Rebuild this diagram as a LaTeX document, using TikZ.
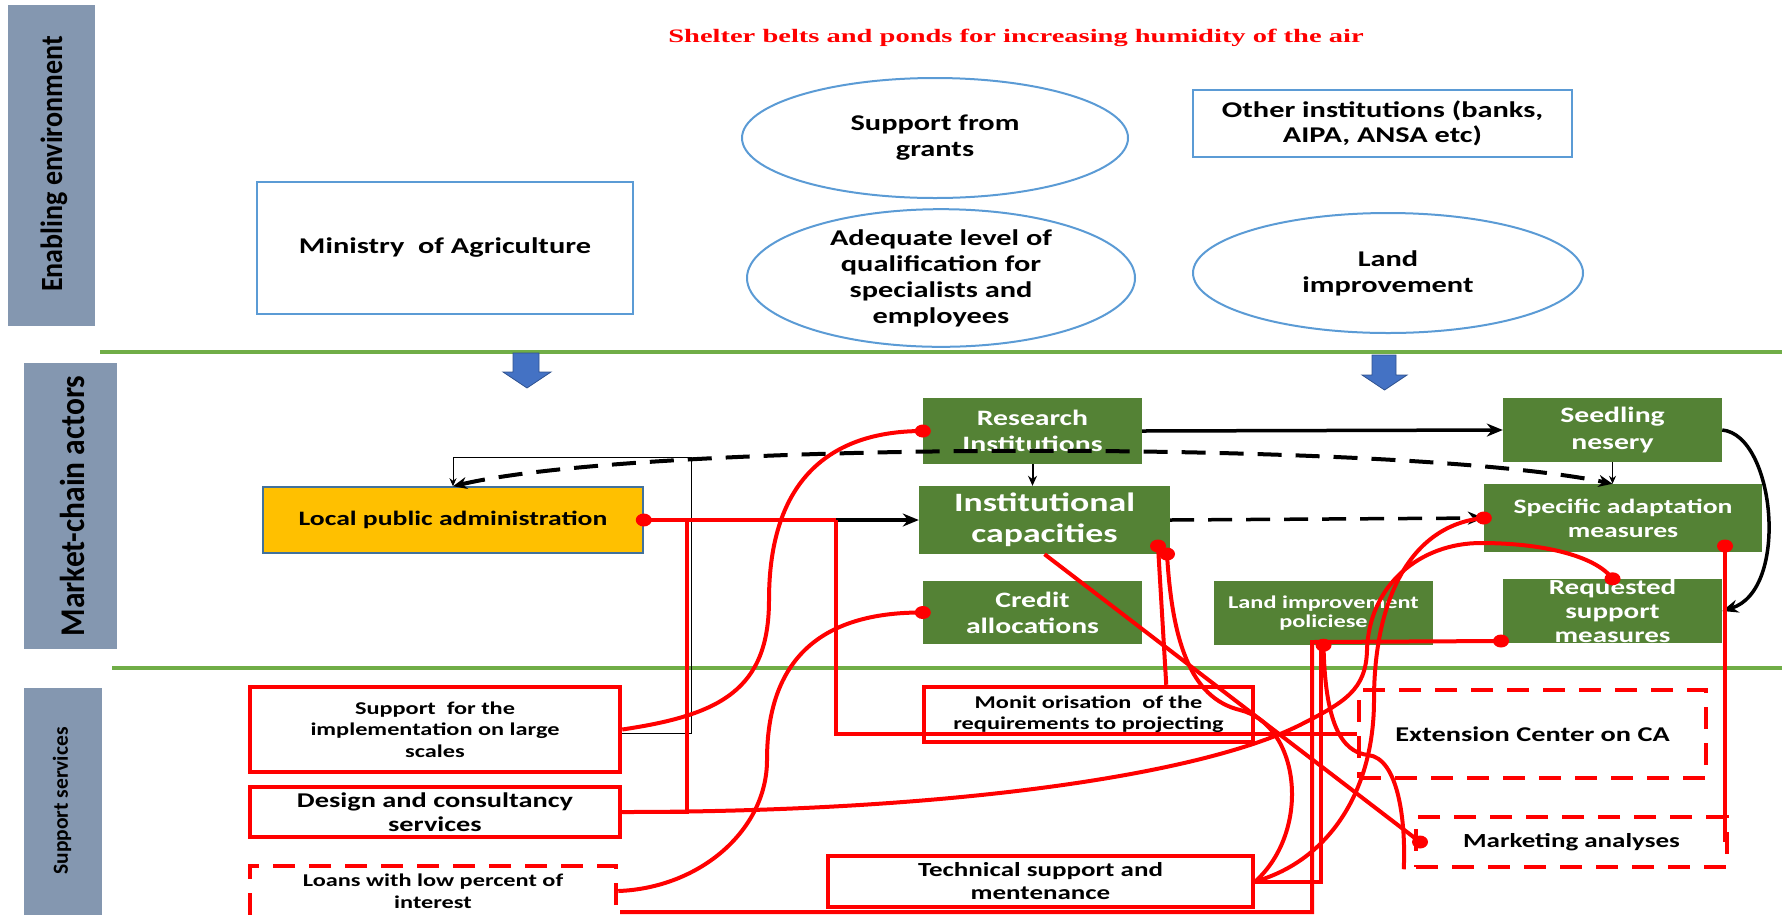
\documentclass[tikz,border=0pt]{standalone}
\usepackage{fontspec}
\usepackage{graphicx}
\setmainfont{Carlito}[FakeStretch=1.35]
\newfontfamily\bandfont{Carlito}
\newfontfamily\headfont{Liberation Serif}[FakeStretch=1.5]
\usetikzlibrary{shapes.geometric,arrows.meta}

\definecolor{bargray}{HTML}{8497B0}
\definecolor{leafgreen}{HTML}{548235}
\definecolor{rulegreen}{HTML}{70AD47}
\definecolor{outlineblue}{HTML}{5B9BD5}
\definecolor{blockblue}{HTML}{4472C4}
\definecolor{blockedge}{HTML}{2F528F}
\definecolor{amber}{HTML}{FFC000}
\definecolor{amberedge}{HTML}{41719C}
\definecolor{linkred}{HTML}{FF0000}

\newcommand\setfs[2]{\fontsize{#1}{#2}\selectfont\bfseries}

\tikzset{
  band/.style={fill=bargray, draw=none},
  bandlabel/.style={rotate=90, text=black, inner sep=0pt},
  rulerline/.style={draw=rulegreen, line width=4pt},
  blockarrow/.style={fill=blockblue, draw=blockedge, line width=0.8pt},
  envbox/.style={rectangle, draw=outlineblue, line width=2pt, inner sep=0pt, align=center},
  envoval/.style={ellipse, draw=outlineblue, line width=2pt, inner sep=0pt, align=center},
  actor/.style={rectangle, fill=leafgreen, text=white, inner sep=0pt, align=center},
  service/.style={rectangle, draw=linkred, line width=4.5pt, fill=white, inner sep=0pt, align=center},
  serviceopen/.style={service, dash pattern=on 22pt off 14pt},
  redlink/.style={draw=linkred, line width=4pt},
  reddot/.style={fill=linkred},
  flow/.style={draw=black, line width=3.5pt, -{Stealth[length=16pt,width=13pt]}},
  thinflow/.style={draw=black, line width=2pt, -{Stealth[length=10pt,width=9pt]}},
  hairflow/.style={draw=black, line width=1pt, -{Stealth[length=8pt,width=7pt]}},
  dashflow/.style={draw=black, line width=4pt, dash pattern=on 24pt off 14pt},
}

\begin{document}
\begin{tikzpicture}[x=1pt, y=-1pt]
\useasboundingbox (0,0) rectangle (1782,914);

% ---- side bands
\path[band] (8,5) rectangle (95,326);
\path[band] (24,363) rectangle (117,649);
\path[band] (24,688) rectangle (102,930);
\node[bandlabel, font=\bandfont\fontsize{28}{30}\selectfont\bfseries] (bandA) at (54,164) {\scalebox{1}[1.1]{Enabling environment}};
\node[bandlabel, font=\bandfont\fontsize{31.5}{34}\selectfont\bfseries] (bandB) at (72,506) {\scalebox{1}[1.1]{Market-chain actors}};
\node[bandlabel, font=\bandfont\fontsize{21.5}{24}\selectfont\bfseries] (bandC) at (62,801) {Support services};

% ---- section rules
\draw[rulerline] (100,352) -- (1782,352);
\draw[rulerline] (112,668) -- (1782,668);

% ---- block arrows
\path[blockarrow] (513,353) -- (539,353) -- (539,372) -- (551,372) -- (527,388) -- (503,372) -- (513,372) -- cycle;
\path[blockarrow] (1372,355) -- (1396,355) -- (1396,375) -- (1407,375) -- (1384.5,390) -- (1362,375) -- (1372,375) -- cycle;

% ---- title
\node[text=linkred, font=\headfont\fontsize{19}{20}\selectfont\bfseries] (title) at (1016,38)
  {Shelter belts and ponds for increasing humidity of the air};

% ---- enabling environment
\node[envbox, minimum width=376pt, minimum height=132pt, font=\setfs{22.5}{26}] (ministry) at (445,248) {Ministry~ of Agriculture};
\node[envoval, minimum width=386pt, minimum height=120pt, font=\setfs{22.5}{26}] (grants) at (935,138) {Support from\\grants};
\node[envoval, minimum width=388pt, minimum height=120pt, font=\setfs{22.5}{26}] (skills) at (941,278) {Adequate level of\\qualification for\\specialists and\\employees};
\node[envoval, minimum width=390pt, minimum height=120pt, font=\setfs{22.5}{26}] (landimp) at (1388,273) {Land\\improvement};
\node[envbox, minimum width=379pt, minimum height=67pt, font=\setfs{22.5}{25}] (otherinst) at (1382.5,123.5) {Other institutions (banks,\\AIPA, ANSA etc)};

% ---- market-chain actors
\node[rectangle, fill=amber, draw=amberedge, line width=1.5pt, inner sep=0pt, minimum width=380pt, minimum height=66pt, font=\setfs{20.5}{24}] (lpa) at (453,520) {Local public administration};
\node[actor, minimum width=219pt, minimum height=66pt, font=\setfs{22}{26}] (research) at (1032.5,431) {Research\\Institutions};
\node[actor, minimum width=251pt, minimum height=68pt, font=\setfs{26.5}{31}] (institutional) at (1044.5,520) {Institutional\\capacities};
\node[actor, minimum width=219pt, minimum height=63pt, font=\setfs{22}{26}] (credit) at (1032.5,612.5) {Credit\\allocations};
\node[actor, minimum width=219pt, minimum height=64pt, font=\setfs{18}{19.5}] (landpol) at (1323.5,613) {Land improvement\\policiese};
\node[actor, minimum width=219pt, minimum height=64pt, font=\setfs{22}{26}] (seedling) at (1612.5,430) {Seedling\\nesery};
\node[actor, minimum width=278pt, minimum height=68pt, font=\setfs{20.5}{24}] (specific) at (1623,518) {Specific adaptation\\measures};
\node[actor, minimum width=219pt, minimum height=64pt, font=\setfs{21.5}{24}] (requested) at (1612.5,611) {Requested\\support\\measures};

% ---- support services
\node[service, minimum width=370pt, minimum height=85pt, font=\setfs{18}{21.5}] (supimpl) at (435,729.5) {Support~ for the\\implementation on large\\scales};
\node[service, minimum width=370pt, minimum height=50pt, font=\setfs{21}{24}] (design) at (435,812) {Design and consultancy\\services};
\node[serviceopen, minimum width=366pt, minimum height=69pt] (loans) at (433,900.5) {};
\node[font=\setfs{18}{22}, align=center, inner sep=0pt] (loanslbl) at (433,891) {Loans with low percent of\\interest};
\node[service, minimum width=329pt, minimum height=55pt, font=\setfs{18}{21}] (monit) at (1088.5,714.5) {Monit orisation~ of the\\requirements to projecting};
\node[service, minimum width=425pt, minimum height=51pt, font=\setfs{20}{23}] (technical) at (1040.5,881.5) {Technical support and\\mentenance};
\node[serviceopen, minimum width=347pt, minimum height=88pt, font=\setfs{21}{24}] (extension) at (1532.5,734) {Extension Center on CA};
\node[serviceopen, minimum width=311pt, minimum height=50pt, font=\setfs{20}{23}] (marketing) at (1571.5,842) {Marketing analyses};

% ---- junction points
\coordinate (lpaj) at (687,520);
\coordinate (lpak) at (836,520);
\coordinate (capA) at (1158,546);
\coordinate (capB) at (1167,554);
\coordinate (specdot) at (1725,546);
\coordinate (reqw) at (1501,641);
\coordinate (lpj) at (1312,642);
\coordinate (loansfoot) at (620,912);
\coordinate (mktdot) at (1420,842);

% ---- black flows
\draw[flow] (research.east) -- (seedling.west);
\draw[thinflow] (research.south) -- (research.south |- institutional.north);
\draw[flow] (lpak) -- (institutional.west);
\draw[flow, dash pattern=on 24pt off 14pt] (institutional.east) -- (specific.west);
\draw[flow] (seedling.east) .. controls (1775,435) and (1790,590) .. (requested.east);
\draw[hairflow] ([yshift=-3.5pt]supimpl.east) -| (691,457) -| (lpa.north);
\draw[dashflow, {Stealth[length=14pt,width=12pt]}-{Stealth[length=14pt,width=12pt]}]
  (lpa.north) .. controls (650,440) and (1400,440) .. (seedling.south |- specific.north);
\draw[hairflow] (seedling.south) -- (seedling.south |- specific.north);

% ---- red links
\draw[redlink] (lpa.east) -- (lpak);
\draw[redlink] (lpaj) |- (design.east);
\draw[redlink] (lpak) |- (extension.west);
\draw[redlink] (supimpl.east) .. controls (720,715) and (769,690) .. (769,600)
  .. controls (769,480) and (830,431) .. (research.west);
\draw[redlink] (loans.east |- loanslbl) .. controls (700,888) and (767,830) .. (767,760)
  .. controls (767,660) and (820,612) .. (credit.west);
\draw[redlink] (design.east) .. controls (950,812) and (1200,775) .. (1300,725)
  .. controls (1345,702) and (1366,690) .. (1367,650)
  .. controls (1369,585) and (1420,543) .. (1481,543)
  .. controls (1540,543) and (1595,555) .. (requested.north);
\draw[redlink] (technical.east) .. controls (1330,860) and (1374,790) .. (1374,700)
  .. controls (1374,600) and (1410,525) .. (specific.west);
\draw[redlink] (capB) .. controls (1172,640) and (1190,698) .. (1240,710)
  .. controls (1300,725) and (1312,830) .. (technical.east);
\draw[redlink] (capA) -- ([xshift=-89pt]monit.north east);
\draw[redlink] (institutional.south) -- (mktdot);
\draw[redlink] (landpol.south) .. controls (1325,720) and (1340,752) .. (1368,755)
  .. controls (1398,758) and (1406,820) .. ([xshift=-10pt]marketing.south west);
\draw[redlink] (reqw) -- (lpj) |- (loansfoot);
\draw[redlink] ([xshift=-2.5pt]landpol.south) |- (technical.east);
\draw[redlink] (specdot) -- (specdot |- marketing.east);

% ---- link ends
\foreach \p in {lpa.east, research.west, credit.west, capA, capB, specific.west, specdot, requested.north, reqw, landpol.south, mktdot}
  \fill[reddot] (\p) ellipse [x radius=8pt, y radius=6.5pt];

\end{tikzpicture}
\end{document}
